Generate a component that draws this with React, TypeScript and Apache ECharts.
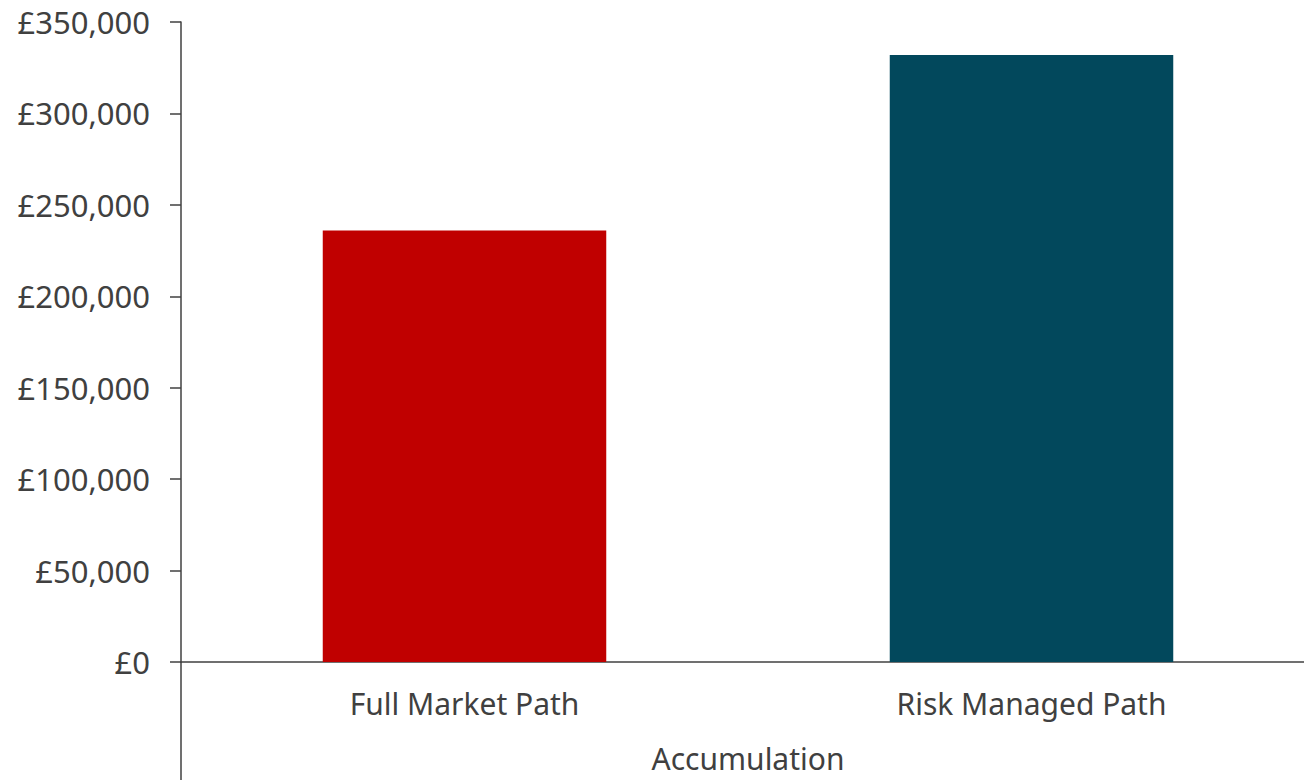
import React, { useEffect, useRef } from "react";
import * as echarts from "echarts";

const categories = ["Full Market Path", "Risk Managed Path"];
const values = [236000, 332000];
const barColors = ["#C00000", "#02485C"];
const groupLabel = "Accumulation";
const yMin = 0;
const yMax = 350000;
const yInterval = 50000;

export default function App() {
  const ref = useRef<HTMLDivElement>(null);
  useEffect(() => {
    document.body.style.margin = "0";
    const chart = echarts.init(ref.current!, null, { renderer: "svg" });
    const font = "'Noto Sans', sans-serif";
    const txt = "#404040";
    chart.setOption({
      animation: false,
      backgroundColor: "#ffffff",
      grid: { left: 181, top: 22, width: 1134, height: 640, outerBoundsMode: "none", containLabel: false },
      xAxis: {
        type: "category",
        data: categories,
        axisLine: { show: true, lineStyle: { color: "#404040", width: 1.5 } },
        axisTick: { show: false },
        axisLabel: { color: txt, fontSize: 30, fontFamily: font, margin: 21, lineHeight: 40 },
        name: groupLabel,
        nameLocation: "middle",
        nameGap: 82,
        nameTextStyle: { color: txt, fontSize: 30, fontFamily: font, lineHeight: 28 },
      },
      yAxis: {
        type: "value",
        min: yMin,
        max: yMax,
        interval: yInterval,
        axisLine: { show: true, lineStyle: { color: "#404040", width: 1.5 } },
        axisTick: { show: true, length: 11, lineStyle: { color: "#404040", width: 1.5 } },
        splitLine: { show: false },
        axisLabel: {
          color: txt,
          fontSize: 31,
          fontFamily: font,
          margin: 31,
          formatter: (v: number) => "£" + v.toLocaleString("en-GB"),
        },
      },
      series: [
        {
          type: "bar",
          barWidth: "50%",
          data: values.map((v, i) => ({ value: v, itemStyle: { color: barColors[i] } })),
        },
      ],
      graphic: [
        {
          type: "line",
          shape: { x1: 181, y1: 662, x2: 181, y2: 780 },
          style: { stroke: "#404040", lineWidth: 1.5 },
        },
      ],
    });
    return () => chart.dispose();
  }, []);
  return (
    <div
      ref={ref}
      style={{ position: "fixed", left: 0, top: 0, width: 1304, height: 780 }}
    />
  );
}
